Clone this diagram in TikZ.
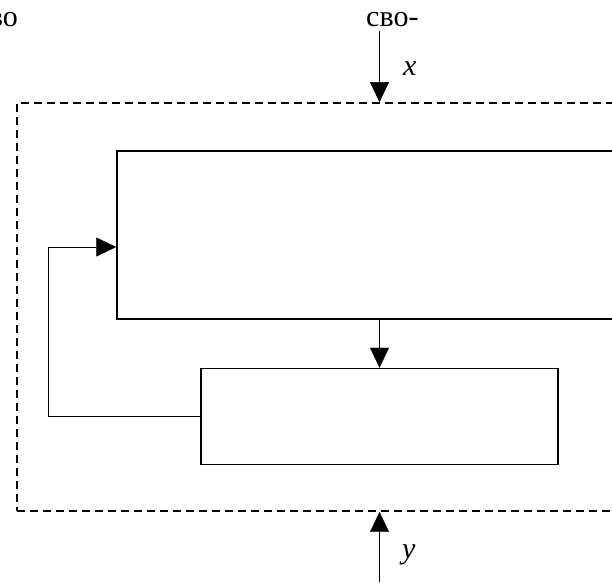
\documentclass[tikz,border=0pt]{standalone}
\usepackage{fontspec}
\setmainfont{Liberation Serif}
\usetikzlibrary{positioning, arrows.meta}
\tikzset{
  block/.style={draw, rectangle, line width=1.5pt, inner sep=0pt},
  sysbox/.style={draw, rectangle, dash pattern=on 8pt off 5pt, line width=1.8pt, inner sep=0pt},
  lbl/.style={inner sep=0pt, font=\fontsize{30pt}{36pt}\selectfont},
  -{Triangle[length=20pt,width=19pt]}, line width=1.5pt
}

\begin{document}
\begin{tikzpicture}[x=1pt, y=-1pt]
    \path[use as bounding box, clip] (0,0) rectangle (612,582);

    \node[sysbox, minimum width=725pt, minimum height=408pt] (sys) at (379.5,307) {};
    \node[block, minimum width=525pt, minimum height=168pt] (plant) at (379.5,235) {};
    \node[block, minimum width=357pt, minimum height=96pt, below = 48pt of plant] (reg) {};

    \node[lbl, anchor=base east] (w0) at (18,26) {во};
    \node[lbl, anchor=base west] (w1) at (366,26) {сво-};
    \node[lbl, anchor=base west] (xl) at (403,75) {\itshape x};
    \node[lbl, anchor=base west] (yl) at (402,558) {\itshape y};

    \coordinate (xin) at (379.5,31);
    \coordinate (yin) at (379.5,582);
    \coordinate (fb) at (48.5,247);

    \draw (xin) -- (sys.north);
    \draw (yin) -- (sys.south);
    \draw (reg.north |- plant.south) -- (reg.north);
    \draw (reg.west) -| (fb) -- (fb -| plant.west);
  \end{tikzpicture}
\end{document}
